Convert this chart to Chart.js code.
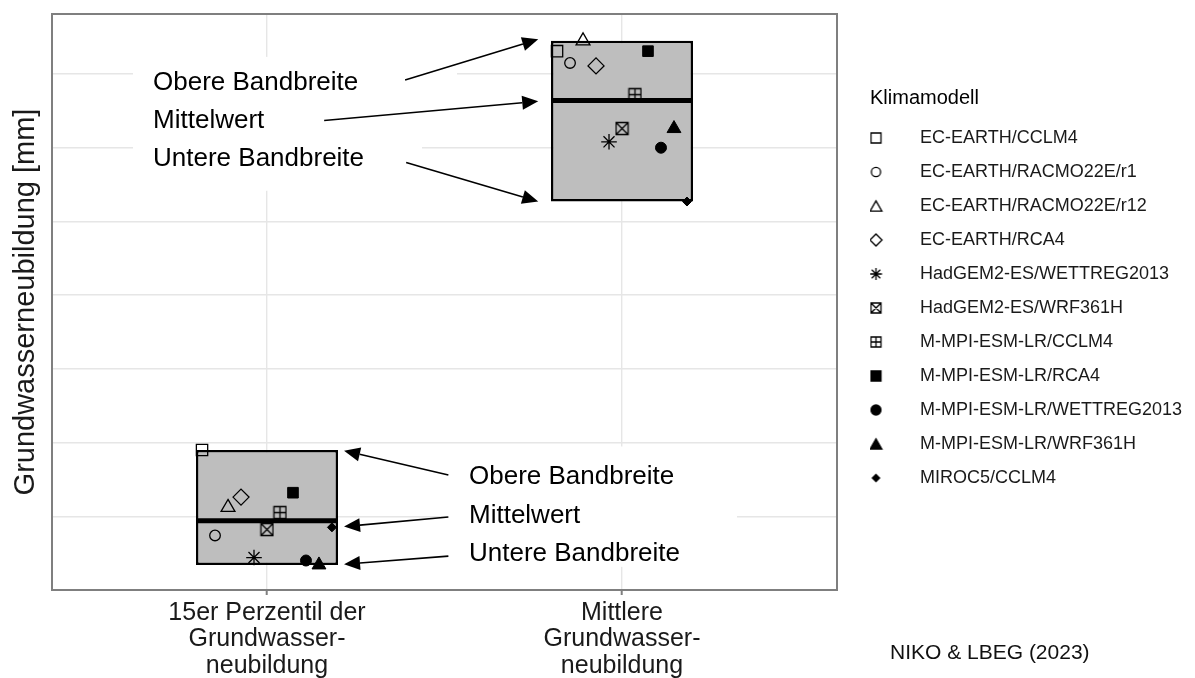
<!DOCTYPE html>
<html lang="de">
<head>
<meta charset="UTF-8">
<title>Grundwasserneubildung – Bandbreite der Klimamodelle</title>
<script src="https://cdn.jsdelivr.net/npm/chart.js"></script>
<style>
  html, body { margin: 0; padding: 0; background: #fff; }
  #wrap { width: 1195px; height: 678px; }
</style>
</head>
<body>
<div id="wrap"><canvas id="gwnChart"></canvas></div>
<script>
// Klimamodelle (Reihenfolge wie in der Legende)
const models = [
    'EC-EARTH/CCLM4', 'EC-EARTH/RACMO22E/r1', 'EC-EARTH/RACMO22E/r12', 'EC-EARTH/RCA4',
    'HadGEM2-ES/WETTREG2013', 'HadGEM2-ES/WRF361H', 'M-MPI-ESM-LR/CCLM4', 'M-MPI-ESM-LR/RCA4',
    'M-MPI-ESM-LR/WETTREG2013', 'M-MPI-ESM-LR/WRF361H', 'MIROC5/CCLM4'
];
// Kategorien der x-Achse (mehrzeilig)
const categories = [
    ['15er Perzentil der', 'Grundwasser-', 'neubildung'],
    ['Mittlere', 'Grundwasser-', 'neubildung']
];
// Werte je Modell (mm)
const perzentil15 = [190, 74, 112, 126, 44, 82, 105, 132, 40, 34, 85];
const mittlereGwn = [731, 715, 745, 711, 608, 626, 672, 731, 600, 626, 527];
// Bandbreite und Mittelwert je Kategorie
const bandUnten = [34, 527];
const bandOben = [190, 745];
const bandMittel = [94, 664];
// Gitterlinien (ohne Beschriftung)
const gridValues = [100, 200, 300, 400, 500, 600, 700];

const FONT = "'Liberation Sans', Arial, Helvetica, sans-serif";
const BOX_W = 0.4;      // Breite der Box in Kategorie-Einheiten
const DODGE = 0.0366;   // seitlicher Versatz der Modellpunkte

// Symbole: Chart.js-Punktstil für die Grafik, eigene Zeichnung für Legende / Sonderformen
const glyphs = ['square', 'circle', 'triangle', 'diamond', 'asterisk', 'squareX', 'squarePlus',
                'squareFilled', 'circleFilled', 'triangleFilled', 'diamondFilled'];
const plotStyle = {
    square: ['rect', 8], circle: ['circle', 5.3], triangle: ['triangle', 8], diamond: ['rectRot', 8],
    asterisk: ['star', 7.8], squareFilled: ['rect', 7.5], circleFilled: ['circle', 5.5],
    triangleFilled: ['triangle', 8], diamondFilled: ['rectRot', 4.5]
};
const legendSize = {
    square: 5, circle: 4.6, triangle: 6.8, diamond: 6, asterisk: 6, squareX: 5, squarePlus: 5,
    squareFilled: 5, circleFilled: 5, triangleFilled: 6.8, diamondFilled: 3.6
};

function drawGlyph(ctx, kind, cx, cy, s) {
    const filled = kind.endsWith('Filled');
    ctx.strokeStyle = '#000';
    ctx.fillStyle = '#000';
    ctx.lineWidth = 1.3;
    ctx.beginPath();
    if (kind.startsWith('square')) {
        ctx.rect(cx - s, cy - s, 2 * s, 2 * s);
        if (kind === 'squareX') {
            ctx.moveTo(cx - s, cy - s); ctx.lineTo(cx + s, cy + s);
            ctx.moveTo(cx + s, cy - s); ctx.lineTo(cx - s, cy + s);
        } else if (kind === 'squarePlus') {
            ctx.moveTo(cx, cy - s); ctx.lineTo(cx, cy + s);
            ctx.moveTo(cx - s, cy); ctx.lineTo(cx + s, cy);
        }
    } else if (kind.startsWith('circle')) {
        ctx.arc(cx, cy, s, 0, Math.PI * 2);
    } else if (kind.startsWith('triangle')) {
        const c = cy + s * 0.25;
        ctx.moveTo(cx, c - s);
        ctx.lineTo(cx + s * 0.866, c + s * 0.5);
        ctx.lineTo(cx - s * 0.866, c + s * 0.5);
        ctx.closePath();
    } else if (kind.startsWith('diamond')) {
        ctx.moveTo(cx, cy - s); ctx.lineTo(cx + s, cy);
        ctx.lineTo(cx, cy + s); ctx.lineTo(cx - s, cy);
        ctx.closePath();
    } else if (kind === 'asterisk') {
        const d = s * 0.707;
        ctx.moveTo(cx - s, cy); ctx.lineTo(cx + s, cy);
        ctx.moveTo(cx, cy - s); ctx.lineTo(cx, cy + s);
        ctx.moveTo(cx - d, cy - d); ctx.lineTo(cx + d, cy + d);
        ctx.moveTo(cx + d, cy - d); ctx.lineTo(cx - d, cy + d);
    }
    if (filled) ctx.fill();
    ctx.stroke();
}

function glyphCanvas(kind, w, h, cx, cy, s) {
    const c = document.createElement('canvas');
    c.width = w; c.height = h;
    drawGlyph(c.getContext('2d'), kind, cx, cy, s);
    return c;
}

// Legendensymbol: breites Bild, Symbol links versetzt, damit es unter dem Titel steht
const legendIcons = glyphs.map(k => glyphCanvas(k, 70, 20, 12.5, 10, legendSize[k]));

const modelSets = models.map((name, i) => {
    const kind = glyphs[i];
    const st = plotStyle[kind];
    const off = (i - (models.length - 1) / 2) * DODGE;
    const filled = kind.endsWith('Filled');
    return {
        label: name,
        data: [{x: 1 + off, y: perzentil15[i]}, {x: 2 + off, y: mittlereGwn[i]}],
        pointStyle: st ? st[0] : glyphCanvas(kind, 15, 15, 7.5, 7.5, 6),
        pointRadius: st ? st[1] : 6,
        borderColor: '#000',
        backgroundColor: filled ? '#000' : 'rgba(0,0,0,0)',
        borderWidth: filled ? 1 : 1.3
    };
});

// Beschriftungen mit Pfeilen (Position in Achseneinheiten)
const notes = [
    {text: 'Obere Bandbreite',  x: 0.679, y: 688, box: [0.6226, 1.5352], pad: [26, 32], from: [1.389, 692], to: [1.764, 747]},
    {text: 'Mittelwert',        x: 0.679, y: 636, box: [0.6226, 1.4367], pad: [26, 32], from: [1.161, 637], to: [1.764, 663]},
    {text: 'Untere Bandbreite', x: 0.679, y: 585, box: [0.6226, 1.4367], pad: [26, 32], from: [1.392, 580], to: [1.764, 527]},
    {text: 'Obere Bandbreite',  x: 1.569, y: 154, box: [1.5071, 2.3240], pad: [30, 13], from: [1.511, 156], to: [1.217, 189]},
    {text: 'Mittelwert',        x: 1.569, y: 101, box: [1.5071, 2.3240], pad: [30, 13], from: [1.511, 99],  to: [1.217, 86]},
    {text: 'Untere Bandbreite', x: 1.569, y: 49,  box: [1.5071, 2.3240], pad: [30, 13], from: [1.511, 46],  to: [1.217, 35]}
];

function arrow(ctx, x0, y0, x1, y1) {
    const a = Math.atan2(y1 - y0, x1 - x0), L = 16, W = 7;
    const bx = x1 - L * Math.cos(a), by = y1 - L * Math.sin(a);
    ctx.beginPath();
    ctx.moveTo(x0, y0);
    ctx.lineTo(bx, by);
    ctx.stroke();
    ctx.beginPath();
    ctx.moveTo(x1, y1);
    ctx.lineTo(bx + W * Math.sin(a), by - W * Math.cos(a));
    ctx.lineTo(bx - W * Math.sin(a), by + W * Math.cos(a));
    ctx.closePath();
    ctx.fill();
}

const notesPlugin = {
    id: 'bandNotes',
    beforeDatasetsDraw(chart) {
        const {ctx, scales: {x, y}} = chart;
        ctx.save();
        ctx.fillStyle = '#fff';
        notes.forEach(n => {
            const x0 = x.getPixelForValue(n.box[0]), x1 = x.getPixelForValue(n.box[1]);
            const yc = y.getPixelForValue(n.y);
            ctx.fillRect(x0, yc - n.pad[0], x1 - x0, n.pad[0] + n.pad[1]);
        });
        ctx.restore();
    },
    afterDatasetsDraw(chart) {
        const {ctx, chartArea: a, scales: {x, y}} = chart;
        ctx.save();
        // Rahmen des Diagrammfelds
        ctx.strokeStyle = '#7f7f7f';
        ctx.lineWidth = 2;
        ctx.strokeRect(a.left, a.top, a.right - a.left, a.bottom - a.top);
        // Texte und Pfeile
        ctx.fillStyle = '#000';
        ctx.strokeStyle = '#000';
        ctx.lineWidth = 1.6;
        ctx.font = '26px ' + FONT;
        ctx.textBaseline = 'middle';
        ctx.textAlign = 'left';
        notes.forEach(n => {
            ctx.fillText(n.text, x.getPixelForValue(n.x), y.getPixelForValue(n.y));
            arrow(ctx, x.getPixelForValue(n.from[0]), y.getPixelForValue(n.from[1]),
                  x.getPixelForValue(n.to[0]), y.getPixelForValue(n.to[1]));
        });
        ctx.restore();
    },
    afterDraw(chart) {
        const ctx = chart.ctx;
        ctx.save();
        ctx.fillStyle = '#111';
        ctx.font = '21px ' + FONT;
        ctx.textBaseline = 'middle';
        ctx.fillText('NIKO & LBEG (2023)', chart.legend.left + 20, 653);
        ctx.restore();
    }
};

new Chart(document.getElementById('gwnChart'), {
    type: 'scatter',
    data: {
        datasets: [
            ...modelSets,
            {
                label: 'Mittelwert',
                data: bandMittel.map((m, c) => ({x: c + 1, y: m})),
                pointStyle: 'line',
                pointRadius: ctx => {
                    const s = ctx.chart.scales.x;
                    return s.getPixelForValue(1 + BOX_W / 2) - s.getPixelForValue(1);
                },
                borderColor: '#000',
                borderWidth: 5
            },
            {
                type: 'bar',
                label: 'Bandbreite',
                data: bandUnten.map((lo, c) => ({x: c + 1, y: [lo, bandOben[c]]})),
                backgroundColor: '#bebebe',
                borderColor: '#000',
                borderWidth: 2.5,
                borderSkipped: false,
                barPercentage: BOX_W,
                categoryPercentage: 1,
                grouped: false
            }
        ]
    },
    options: {
        responsive: true,
        maintainAspectRatio: false,
        animation: false,
        events: [],
        layout: {padding: {top: 14, right: 3, bottom: 0, left: 0}},
        scales: {
            x: {
                type: 'linear',
                min: 0.3944,
                max: 2.6056,
                offset: false,
                afterBuildTicks: s => { s.ticks = categories.map((_, i) => ({value: i + 1})); },
                afterFit: s => { s.height = 88; },
                ticks: {
                    callback: (v, i) => categories[i],
                    font: {family: FONT, size: 25, lineHeight: 1.06},
                    color: '#1a1a1a',
                    padding: 4.5,
                    maxRotation: 0,
                    autoSkip: false
                },
                grid: {offset: false, color: '#e6e6e6', lineWidth: 1.4, tickLength: 5, tickColor: '#7f7f7f', tickWidth: 2},
                border: {display: false}
            },
            y: {
                type: 'linear',
                min: 0,
                max: 781.4,
                afterBuildTicks: s => { s.ticks = gridValues.map(v => ({value: v})); },
                afterFit: s => { s.width = 52; },
                ticks: {display: false},
                grid: {color: '#e6e6e6', lineWidth: 1.4, drawTicks: false},
                border: {display: false},
                title: {
                    display: true,
                    text: 'Grundwasserneubildung [mm]',
                    color: '#1a1a1a',
                    font: {family: FONT, size: 29},
                    padding: {top: 8.6, bottom: 0}
                }
            },
            yR: {
                type: 'linear',
                position: 'right',
                afterFit: s => { s.width = 33; },
                ticks: {display: false},
                grid: {display: false},
                border: {display: false}
            }
        },
        plugins: {
            tooltip: {enabled: false},
            legend: {
                position: 'right',
                align: 'start',
                maxWidth: 322,
                title: {
                    display: true,
                    text: 'Klimamodell',
                    position: 'start',
                    color: '#000',
                    font: {family: FONT, size: 20},
                    padding: {top: 74.5, bottom: 0.5}
                },
                labels: {
                    usePointStyle: true,
                    pointStyleWidth: 25,
                    padding: 16,
                    color: '#1a1a1a',
                    font: {family: FONT, size: 18},
                    generateLabels: chart => Chart.defaults.plugins.legend.labels.generateLabels(chart)
                        .filter(item => item.datasetIndex < models.length)
                        .map(item => Object.assign(item, {pointStyle: legendIcons[item.datasetIndex]}))
                }
            }
        }
    },
    plugins: [notesPlugin]
});
</script>
</body>
</html>
